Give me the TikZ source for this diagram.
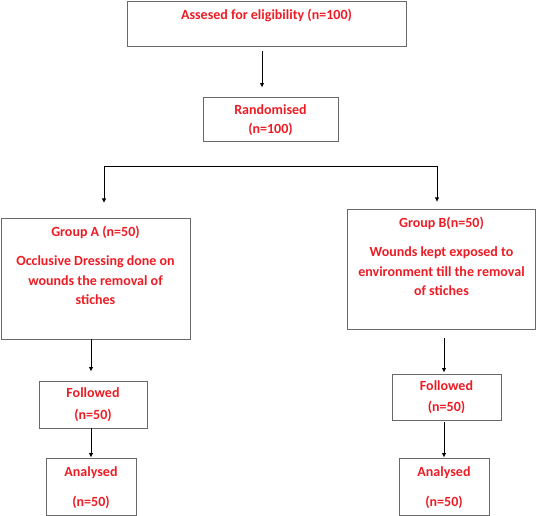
\documentclass[tikz,border=0pt]{standalone}
\usepackage{fontspec}
\setmainfont{Carlito}
\usepackage{tikz}
\usetikzlibrary{arrows.meta}
\definecolor{fred}{RGB}{237,28,36}
\definecolor{fgray}{RGB}{105,105,105}
\newcommand{\ftop}[4]{\parbox[c][#2][t]{#1}{\centering\vspace*{#3}#4\par}}
\tikzset{
  flowbox/.style={draw=fgray, line width=0.9pt, inner sep=0pt, text=fred,
    font=\fontsize{14}{19.5}\selectfont\bfseries, align=center},
  flowarr/.style={draw=black, line width=1pt, -{Latex[length=4.5pt,width=4.5pt]}}
}

\begin{document}
\begin{tikzpicture}[x=1pt,y=-1pt]
  \useasboundingbox (0,0) rectangle (536,516);
  \node[flowbox] (elig) at (266.5,23.5) {\ftop{279pt}{45pt}{8pt}{Assesed for eligibility (n=100)}};
  \node[flowbox, minimum width=135pt, minimum height=44pt] (rand) at (270.5,119) {\rule{0pt}{12pt}Randomised\\[-0.5pt](n=100)};
  \node[flowbox] (grpA) at (95.5,278.5) {\ftop{189pt}{121pt}{8.5pt}{Group A (n=50)\\[9.5pt]
    Occlusive Dressing done on\\wounds the removal of\\stiches}};
  \node[flowbox] (grpB) at (441.5,269) {\ftop{188pt}{120pt}{8.5pt}{Group B(n=50)\\[9.5pt]
    Wounds kept exposed to\\environment till the removal\\of stiches}};
  \node[flowbox, minimum width=108pt, minimum height=47pt] (follA) at (93,404.5) {Followed\\[2.5pt](n=50)};
  \node[flowbox, minimum width=109pt, minimum height=46pt] (follB) at (446.5,397) {Followed\\[1.5pt](n=50)};
  \node[flowbox, minimum width=90pt, minimum height=57pt] (anlA) at (91,486.5) {\rule{0pt}{12pt}Analysed\\[10.5pt](n=50)};
  \node[flowbox, minimum width=90pt, minimum height=57pt] (anlB) at (444,486.5) {\rule{0pt}{12pt}Analysed\\[10.5pt](n=50)};

  \coordinate (tA) at (104,167);
  \coordinate (tB) at (437,167);
  \coordinate (endA) at (104,203);
  \coordinate (endB) at (437,202);

  \draw[flowarr, shorten <=5pt, shorten >=9pt] ([xshift=-4.5pt]elig.south) -- ([xshift=-8.5pt]rand.north);
  \draw[flowarr, {Latex[length=4.5pt,width=4.5pt]}-{Latex[length=4.5pt,width=4.5pt]}] (endA) -- (tA) -- (tB) -- (endB);
  \draw[flowarr, shorten >=9pt] (grpA.south -| anlA) -- (follA.north -| anlA);
  \draw[flowarr] (follA.south -| anlA) -- (anlA.north);
  \draw[flowarr, shorten <=9pt, shorten >=1pt] (grpB.south -| anlB) -- (follB.north -| anlB);
  \draw[flowarr, shorten <=2pt] (follB.south -| anlB) -- (anlB.north);
\end{tikzpicture}
\end{document}
